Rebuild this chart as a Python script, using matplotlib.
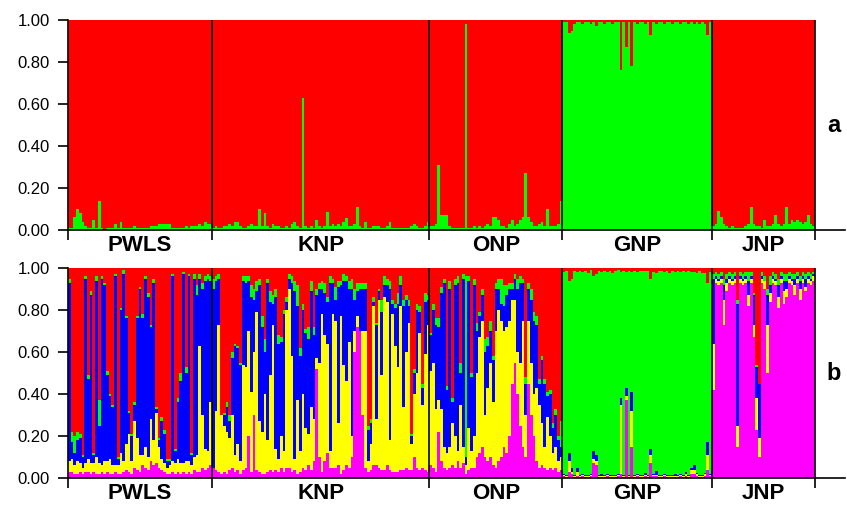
import matplotlib
matplotlib.use("Agg")
import matplotlib.pyplot as plt
import numpy as np

plt.rcParams["font.family"] = ["Liberation Sans", "DejaVu Sans"]

pops = ["PWLS", "KNP", "ONP", "GNP", "JNP"]

# panel a: green membership per individual (red = rest)
pwls_a = [.01, .01, .06, .10, .08, .04, .02, .01, .01, .05, .01, .14, .01, .00, .01, .01, .01, .03,
          .01, .04, .01, .01, .01, .01, .02, .01, .01, .01, .01, .01, .02, .02, .02, .03, .03, .03,
          .03, .03, .01, .01, .01, .01, .01, .02, .01, .02, .02, .02, .03, .02, .04, .03, .03]
knp_a = [.01, .02, .01, .01, .02, .02, .03, .02, .04, .04, .02, .01, .01, .02, .03, .02, .02, .10,
         .02, .08, .02, .01, .03, .02, .02, .01, .01, .02, .01, .03, .04, .02, .01, .63, .02, .01,
         .02, .01, .05, .02, .01, .02, .085, .02, .03, .02, .03, .02, .04, .055, .02, .02, .03, .11,
         .02, .01, .04, .01, .01, .02, .02, .02, .01, .01, .02, .04, .01, .01, .01, .01, .01, .01,
         .01, .02, .03, .02, .01, .01, .02, .04]
onp_a = [.02, .02, .03, .31, .07, .07, .07, .02, .01, .01, .01, .01, .01, .98, .01, .01, .02, .01,
         .02, .01, .02, .03, .02, .06, .06, .05, .02, .02, .01, .03, .05, .02, .03, .05, .06, .27,
         .06, .04, .02, .02, .03, .04, .02, .10, .02, .02, .02, .03, .14]
gnp_a = [.99, .99, .94, .95, .98, .99, .99, .98, .99, .99, .98, .99, .97, .99, .99, .98, .99, .99,
         .98, .99, .99, .76, .99, .87, .99, .78, .99, .98, .99, .99, .98, .99, .93, .99, .98, .99,
         .99, .98, .99, .99, .98, .99, .99, .98, .99, .99, .98, .99, .98, .99, .98, .99, .98, .93, .99]
jnp_a = [.02, .03, .09, .06, .03, .02, .01, .02, .01, .01, .01, .01, .02, .03, .11, .03, .02, .02,
         .01, .05, .02, .02, .03, .07, .03, .02, .03, .11, .03, .05, .04, .05, .04, .03, .04, .07,
         .03, .02]

# panel b: [magenta, yellow, blue, green] per individual (red = rest)
pwls_b = [[.03, .05, .85, .02], [.03, .06, .08, .05], [.02, .04, .06, .08], [.02, .06, .10, .04],
          [.03, .04, .12, .02], [.02, .03, .05, .01], [.03, .04, .88, .01], [.03, .06, .38, .02],
          [.02, .05, .80, .02], [.03, .04, .04, .01], [.02, .08, .84, .02], [.02, .05, .18, .12],
          [.03, .03, .89, .01], [.02, .06, .84, .01], [.03, .05, .41, .02], [.02, .07, .30, .01],
          [.02, .04, .28, .01], [.03, .03, .90, .01], [.02, .04, .03, .01], [.02, .10, .68, .01],
          [.03, .05, .89, .02], [.04, .12, .60, .01], [.03, .18, .10, .01], [.02, .06, .12, .01],
          [.05, .22, .08, .01], [.04, .15, .57, .01], [.03, .08, .79, .01], [.06, .05, .65, .02],
          [.05, .10, .80, .01], [.04, .06, .76, .02], [.08, .20, .44, .01], [.06, .12, .75, .02],
          [.07, .24, .02, .01], [.05, .10, .03, .01], [.04, .05, .18, .02], [.03, .04, .14, .02],
          [.02, .03, .03, .01], [.02, .04, .02, .01], [.03, .05, .88, .01], [.02, .05, .06, .01],
          [.03, .06, .27, .02], [.02, .05, .39, .04], [.03, .04, .90, .01], [.02, .06, .42, .03],
          [.03, .05, .88, .01], [.02, .04, .05, .01], [.04, .06, .85, .02], [.03, .08, .76, .05],
          [.03, .60, .32, .02], [.05, .25, .60, .03], [.04, .10, .80, .02], [.05, .08, .82, .02],
          [.06, .30, .58, .02]]
knp_b = [[.05, .00, .85, .05], [.04, .28, .62, .02], [.03, .70, .22, .02], [.02, .28, .00, .00],
         [.03, .22, .05, .01], [.02, .20, .12, .02], [.04, .15, .08, .03], [.05, .25, .27, .03],
         [.03, .08, .52, .01], [.04, .12, .46, .01], [.02, .06, .46, .01], [.04, .50, .40, .02],
         [.05, .48, .40, .03], [.20, .50, .24, .02], [.03, .38, .45, .06], [.30, .30, .25, .05],
         [.04, .75, .10, .05], [.03, .24, .65, .03], [.02, .20, .50, .05], [.02, .38, .20, .06],
         [.03, .15, .75, .02], [.04, .45, .35, .05], [.03, .70, .10, .04], [.04, .10, .72, .04],
         [.03, .06, .55, .04], [.05, .15, .45, .02], [.03, .10, .65, .02], [.05, .75, .04, .02],
         [.05, .85, .05, .02], [.03, .55, .35, .03], [.04, .05, .80, .05], [.02, .35, .45, .10],
         [.03, .10, .45, .04], [.05, .35, .40, .03], [.04, .20, .45, .02], [.06, .15, .45, .06],
         [.04, .30, .55, .05], [.08, .20, .40, .04], [.52, .05, .30, .03], [.10, .45, .35, .03],
         [.03, .75, .12, .04], [.08, .60, .20, .05], [.12, .52, .20, .02], [.05, .08, .80, .03],
         [.05, .73, .15, .02], [.05, .70, .10, .06], [.06, .20, .65, .03], [.02, .75, .15, .02],
         [.04, .50, .40, .03], [.06, .40, .48, .02], [.05, .60, .25, .04], [.10, .10, .70, .05],
         [.60, .10, .15, .05], [.72, .05, .12, .04], [.70, .00, .20, .03], [.30, .40, .20, .03],
         [.05, .65, .20, .03], [.03, .05, .15, .02], [.04, .12, .10, .02], [.06, .76, .02, .02],
         [.06, .22, .45, .01], [.05, .80, .04, .01], [.04, .45, .30, .06], [.04, .82, .06, .04],
         [.06, .78, .08, .03], [.04, .14, .72, .04], [.03, .75, .05, .02], [.03, .60, .18, .02],
         [.03, .50, .30, .05], [.04, .78, .10, .04], [.04, .30, .48, .03], [.05, .55, .25, .02],
         [.04, .70, .08, .03], [.04, .12, .04, .01], [.10, .30, .10, .02], [.05, .45, .30, .03],
         [.04, .65, .10, .03], [.05, .30, .08, .02], [.04, .55, .25, .04], [.03, .70, .12, .02]]
onp_b = [[.06, .45, .17, .01], [.05, .50, .25, .03], [.03, .30, .40, .03], [.22, .15, .35, .04],
         [.08, .25, .55, .03], [.05, .10, .78, .02], [.04, .08, .30, .02], [.05, .10, .75, .04],
         [.06, .20, .10, .02], [.05, .15, .72, .03], [.08, .05, .80, .03], [.05, .30, .15, .05],
         [.07, .08, .80, .02], [.02, .04, .04, .86], [.04, .20, .70, .02], [.05, .08, .35, .02],
         [.05, .15, .72, .03], [.10, .40, .20, .04], [.12, .55, .10, .02], [.15, .60, .12, .03],
         [.10, .20, .30, .06], [.08, .35, .20, .04], [.10, .45, .15, .05], [.06, .30, .20, .02],
         [.05, .65, .20, .03], [.08, .72, .10, .05], [.10, .65, .08, .12], [.15, .55, .12, .10],
         [.12, .60, .15, .05], [.20, .55, .15, .03], [.45, .40, .05, .03], [.55, .30, .10, .02],
         [.40, .20, .30, .05], [.25, .30, .38, .03], [.15, .60, .18, .02], [.10, .20, .15, .03],
         [.45, .30, .15, .03], [.30, .25, .30, .05], [.20, .20, .35, .04], [.08, .35, .30, .04],
         [.05, .30, .10, .02], [.06, .20, .30, .02], [.05, .10, .30, .02], [.04, .25, .10, .02],
         [.05, .15, .20, .02], [.04, .08, .12, .02], [.05, .10, .15, .03], [.03, .05, .10, .02],
         [.04, .06, .05, .12]]
gnp_b = [[.01, .005, .005, .96], [.005, .005, .005, .97], [.03, .05, .04, .82], [.02, .01, .02, .90],
         [.005, .005, .005, .97], [.01, .02, .02, .93], [.005, .005, .005, .97], [.01, .005, .005, .96],
         [.005, .005, .005, .97], [.005, .005, .005, .96], [.01, .005, .005, .97], [.07, .02, .04, .83],
         [.06, .02, .03, .86], [.005, .005, .005, .97], [.005, .005, .01, .96], [.005, .005, .005, .97],
         [.01, .005, .005, .96], [.005, .005, .005, .97], [.005, .005, .005, .96], [.005, .005, .005, .97],
         [.01, .005, .005, .97], [.02, .33, .03, .60], [.005, .005, .005, .97], [.37, .02, .04, .55],
         [.005, .005, .005, .97], [.15, .17, .09, .57], [.005, .005, .005, .97], [.01, .005, .005, .96],
         [.005, .005, .005, .97], [.005, .005, .005, .97], [.01, .005, .01, .96], [.005, .005, .005, .97],
         [.07, .04, .03, .81], [.01, .005, .005, .96], [.01, .005, .02, .94], [.005, .005, .005, .97],
         [.005, .005, .005, .97], [.01, .005, .005, .96], [.005, .005, .005, .97], [.005, .005, .005, .96],
         [.005, .005, .005, .97], [.005, .005, .01, .96], [.005, .005, .005, .97], [.01, .005, .005, .96],
         [.005, .005, .005, .97], [.01, .01, .01, .95], [.005, .005, .005, .97], [.02, .02, .01, .93],
         [.02, .02, .02, .92], [.01, .01, .005, .95], [.005, .005, .005, .97], [.005, .005, .005, .96],
         [.01, .01, .005, .95], [.04, .07, .06, .76], [.01, .005, .005, .96]]
jnp_b = [[.42, .22, .31, .02], [.93, .02, .01, .02], [.92, .02, .01, .02], [.93, .02, .01, .02],
         [.73, .12, .07, .03], [.89, .04, .02, .02], [.93, .02, .01, .02], [.92, .02, .01, .02],
         [.93, .02, .01, .02], [.15, .10, .58, .02], [.93, .02, .01, .02], [.92, .02, .01, .02],
         [.93, .02, .01, .02], [.82, .05, .07, .04], [.93, .02, .01, .02], [.67, .06, .14, .01],
         [.23, .15, .15, .01], [.10, .09, .26, .00], [.93, .02, .01, .02], [.90, .04, .00, .02],
         [.50, .23, .14, .03], [.84, .04, .04, .04], [.93, .02, .01, .02], [.92, .02, .01, .02],
         [.81, .05, .06, .03], [.93, .02, .01, .02], [.83, .06, .05, .03], [.86, .04, .04, .03],
         [.93, .02, .01, .02], [.92, .02, .01, .02], [.87, .05, .03, .02], [.93, .02, .01, .02],
         [.85, .05, .04, .02], [.93, .02, .01, .02], [.89, .02, .04, .02], [.93, .02, .01, .02],
         [.92, .02, .01, .02], [.94, .02, .01, .01]]

panel_a = [pwls_a, knp_a, onp_a, gnp_a, jnp_a]
panel_b = [pwls_b, knp_b, onp_b, gnp_b, jnp_b]

RED, GREEN, BLUE, YELLOW, MAGENTA = "#ff0000", "#00ff00", "#0000ff", "#ffff00", "#ff00ff"

sizes = [len(p) for p in panel_a]
bounds = np.concatenate([[0], np.cumsum(sizes)])
n = bounds[-1]
extra = 11  # axis line runs past the last bar

fig = plt.figure(figsize=(8.47, 5.05), dpi=100)
ax_a = fig.add_axes([68 / 847, 275 / 505, (747 + 30) / 847, 210 / 505])
ax_b = fig.add_axes([68 / 847, 27 / 505, (747 + 30) / 847, 210 / 505])

x = np.arange(n) + 0.5

# panel a
green = np.concatenate(panel_a)
ax_a.bar(x, green, width=1.0, color=GREEN, linewidth=0, antialiased=False)
ax_a.bar(x, 1 - green, bottom=green, width=1.0, color=RED, linewidth=0, antialiased=False)

# panel b
q = np.array([row for pop in panel_b for row in pop])
red = np.clip(1 - q.sum(axis=1), 0, None)
bottom = np.zeros(n)
for col, c in zip([q[:, 0], q[:, 1], q[:, 2], q[:, 3], red], [MAGENTA, YELLOW, BLUE, GREEN, RED]):
    ax_b.bar(x, col, bottom=bottom, width=1.0, color=c, linewidth=0, antialiased=False)
    bottom = bottom + col

for ax, tag in [(ax_a, "a"), (ax_b, "b")]:
    ax.set_xlim(0, n + extra)
    ax.set_ylim(0, 1)
    for s in ["top", "right"]:
        ax.spines[s].set_visible(False)
    ax.spines["left"].set_linewidth(1.2)
    ax.spines["bottom"].set_linewidth(1.2)
    for b in bounds[1:]:
        ax.axvline(b, 0, 1, color="black", linewidth=1.2)
    ax.set_yticks(np.arange(0, 1.01, 0.2))
    ax.set_yticklabels([format(v, ".2f") for v in np.arange(0, 1.01, 0.2)], fontsize=12)
    ax.set_xticks(bounds)
    ax.set_xticklabels([])
    ax.tick_params(axis="both", direction="out", length=7, width=1.2, pad=6)
    for i, name in enumerate(pops):
        ax.text((bounds[i] + bounds[i + 1]) / 2, -0.022, name, ha="center", va="top",
                fontsize=16, fontweight="bold")
    ax.text(n + 7, 0.5, tag, ha="center", va="center", fontsize=17, fontweight="bold")

fig.savefig("out.png", dpi=100)
